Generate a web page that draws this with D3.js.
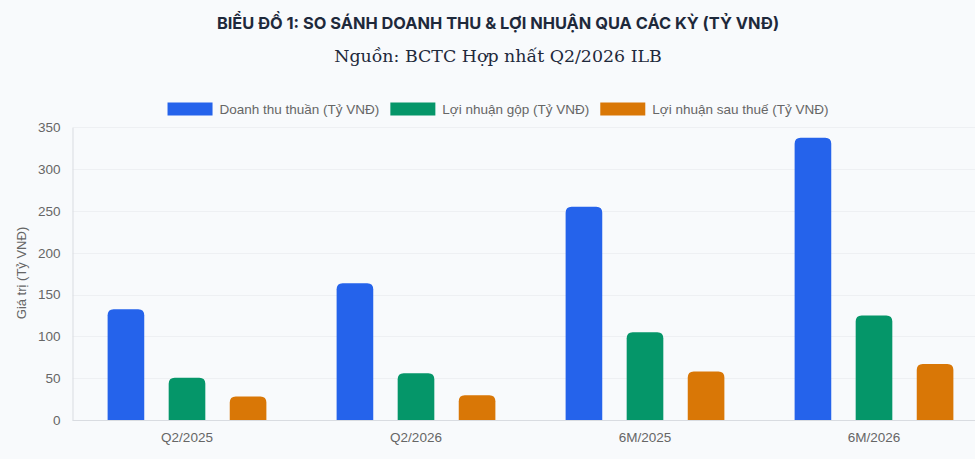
<!DOCTYPE html>
<html>
<head>
<meta charset="utf-8">
<script src="https://cdn.jsdelivr.net/npm/d3@7"></script>
<style>
  html, body { margin: 0; padding: 0; background: #f8fafc; overflow: hidden; }
  svg { display: block; }
</style>
</head>
<body>
<div id="chart"></div>
<script>
// data
var periods = ["Q2/2025", "Q2/2026", "6M/2025", "6M/2026"];
var seriesNames = ["Doanh thu thuần (Tỷ VNĐ)", "Lợi nhuận gộp (Tỷ VNĐ)", "Lợi nhuận sau thuế (Tỷ VNĐ)"];
var revenue = [132.5, 163.5, 255, 337.5];
var grossProfit = [50.5, 56, 105, 125];
var netProfit = [28, 29.5, 58, 67];
var yTicks = [0, 50, 100, 150, 200, 250, 300, 350];
var colors = ["#2563eb", "#059669", "#d97706"];

function init(){
    var w = 975, h = 459;
    var centerX = 498; // the original canvas is a bit wider than the shot

    var svg = d3.select("#chart")
                .append("svg")
                .attr("width", w)
                .attr("height", h);

    var allSeries = [revenue, grossProfit, netProfit];

    // scales
    var xScale = d3.scaleBand()
                   .domain(periods)
                   .range([72.5, 988.5])
                   .paddingInner(0)
                   .paddingOuter(0);

    var groupScale = d3.scaleBand()
                       .domain(d3.range(allSeries.length))
                       .range([0, xScale.bandwidth() * 0.8]);

    var yScale = d3.scaleLinear()
                   .domain([0, 350])
                   .range([420, 127.3]);

    // title + subtitle
    svg.append("text")
       .attr("x", centerX)
       .attr("y", 28.5)
       .attr("text-anchor", "middle")
       .attr("font-family", "Inter, Roboto, sans-serif")
       .attr("font-size", "16.4px")
       .attr("font-weight", "bold")
       .attr("fill", "#1e293b")
       .text("BIỂU ĐỒ 1: SO SÁNH DOANH THU & LỢI NHUẬN QUA CÁC KỲ (TỶ VNĐ)");

    svg.append("text")
       .attr("x", centerX)
       .attr("y", 61.5)
       .attr("text-anchor", "middle")
       .attr("font-family", "'DejaVu Serif', serif")
       .attr("font-size", "17.4px")
       .attr("fill", "#1e293b")
       .text("Nguồn: BCTC Hợp nhất Q2/2026 ILB");

    // grid
    svg.append("g")
       .selectAll("line")
       .data(yTicks)
       .enter()
       .append("line")
       .attr("x1", 72.5)
       .attr("x2", 988.5)
       .attr("y1", function(d){ return Math.round(yScale(d)) + 0.5; })
       .attr("y2", function(d){ return Math.round(yScale(d)) + 0.5; })
       .attr("stroke", function(d){ return d === 0 ? "#d9dce1" : "#eef0f3"; })
       .attr("stroke-width", 1);

    // y axis
    var yAxis = d3.axisLeft(yScale)
                  .tickValues(yTicks)
                  .tickSize(0)
                  .tickPadding(12);
    var gy = svg.append("g")
                .attr("transform", "translate(72.5,0)")
                .call(yAxis);
    gy.select(".domain").attr("stroke", "#d9dce1");
    gy.selectAll("text")
      .attr("font-family", "'Liberation Sans', Arial, sans-serif")
      .attr("font-size", "13.5px")
      .attr("fill", "#666");

    // x axis
    var xAxis = d3.axisBottom(xScale).tickSize(0).tickPadding(12);
    var gx = svg.append("g")
                .attr("transform", "translate(0,420.5)")
                .call(xAxis);
    gx.select(".domain").remove();
    gx.selectAll("text")
      .attr("font-family", "'Liberation Sans', Arial, sans-serif")
      .attr("font-size", "13.5px")
      .attr("fill", "#666");

    // y label
    svg.append("text")
       .attr("transform", "translate(26,273) rotate(-90)")
       .attr("text-anchor", "middle")
       .attr("font-family", "'Liberation Sans', Arial, sans-serif")
       .attr("font-size", "13px")
       .attr("fill", "#666")
       .text("Giá trị (Tỷ VNĐ)");

    // bars with rounded tops
    var r = 6;
    var barW = groupScale.bandwidth() * 0.6;
    function barPath(x, y0, y1){
        var rr = Math.min(r, (y0 - y1) / 2, barW / 2);
        return "M" + x + "," + y0 +
               "V" + (y1 + rr) +
               "Q" + x + "," + y1 + " " + (x + rr) + "," + y1 +
               "H" + (x + barW - rr) +
               "Q" + (x + barW) + "," + y1 + " " + (x + barW) + "," + (y1 + rr) +
               "V" + y0 + "Z";
    }

    allSeries.forEach(function(vals, s){
        svg.append("g")
           .selectAll("path")
           .data(vals)
           .enter()
           .append("path")
           .attr("d", function(d, i){
               var x = xScale(periods[i]) + xScale.bandwidth() * 0.1 + groupScale(s) + groupScale.bandwidth() * 0.2;
               return barPath(x, yScale(0), yScale(d));
           })
           .attr("fill", colors[s]);
    });

    // legend, centered like the canvas
    var legend = svg.append("g");
    var items = legend.selectAll("g")
                      .data(seriesNames)
                      .enter()
                      .append("g");
    items.append("rect")
         .attr("width", 45)
         .attr("height", 13)
         .attr("y", 102.5)
         .attr("fill", function(d, i){ return colors[i]; });
    items.append("text")
         .attr("y", 114)
         .attr("font-family", "'Liberation Sans', Arial, sans-serif")
         .attr("font-size", "13.5px")
         .attr("fill", "#666")
         .text(function(d){ return d; });

    var widths = [];
    items.select("text").each(function(){ widths.push(this.getComputedTextLength()); });
    var total = d3.sum(widths) + widths.length * (45 + 7) + (widths.length - 1) * 11;
    var cx = centerX - total / 2;
    items.each(function(d, i){
        var g = d3.select(this);
        g.select("rect").attr("x", cx);
        g.select("text").attr("x", cx + 52);
        cx += 52 + widths[i] + 11;
    });
}
window.onload = init;
</script>
</body>
</html>
